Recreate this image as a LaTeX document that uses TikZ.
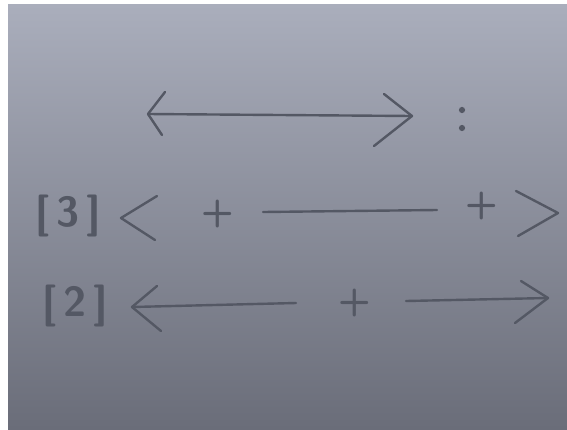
\documentclass[tikz,border=0pt]{standalone}
\begin{document}
\begin{tikzpicture}[x=1pt,y=-1pt,
  pencil/.style={draw=pen,line width=2.4pt,line cap=round,line join=round},
  lbl/.style={text=pen,font=\sffamily\bfseries\fontsize{42}{42}\selectfont,inner sep=0pt},
  plus/.style={text=pen,font=\sffamily\bfseries\fontsize{38}{38}\selectfont,inner sep=0pt}]
\definecolor{pen}{RGB}{84,88,100}
\definecolor{bgtop}{RGB}{170,174,188}
\definecolor{bgbot}{RGB}{106,109,121}
\useasboundingbox (0,0) rectangle (567,429);
\fill[white] (0,0) rectangle (567,429);
\shade[top color=bgtop,bottom color=bgbot] (8,4) rectangle (567,429);
% row 1: double arrow and colon
\coordinate (a1) at (148,114);
\coordinate (b1) at (412,116);
\draw[pencil] (a1) -- (b1);
\draw[pencil] (165,92) -- (a1) -- (162,135);
\draw[pencil] (384,94) -- (b1) -- (374,146);
\node[circle,fill=pen,inner sep=2.2pt] (c1) at (462,110) {};
\node[circle,fill=pen,inner sep=2.2pt] (c2) at (462,128) {};
% row 2
\node[lbl] (n3) at (68,216) {[\,3\,]};
\coordinate (lt) at (121,218);
\draw[pencil] (157,196) -- (lt) -- (155,240);
\node[plus] (p1) at (218,214) {+};
\coordinate (m1) at (263,212);
\coordinate (m2) at (437,210);
\draw[pencil] (m1) -- (m2);
\node[plus] (p2) at (482,206) {+};
\coordinate (gt) at (558,213);
\draw[pencil] (516,191) -- (gt) -- (518,236);
% row 3
\node[lbl] (n2) at (75,306) {[\,2\,]};
\coordinate (l3) at (132,307);
\coordinate (l3e) at (296,303);
\draw[pencil] (l3e) -- (l3);
\draw[pencil] (157,286) -- (l3) -- (161,331);
\node[plus] (p3) at (355,303) {+};
\coordinate (r3s) at (406,301);
\coordinate (r3) at (548,298);
\draw[pencil] (r3s) -- (r3);
\draw[pencil] (521,281) -- (r3) -- (515,323);
\end{tikzpicture}
\end{document}
